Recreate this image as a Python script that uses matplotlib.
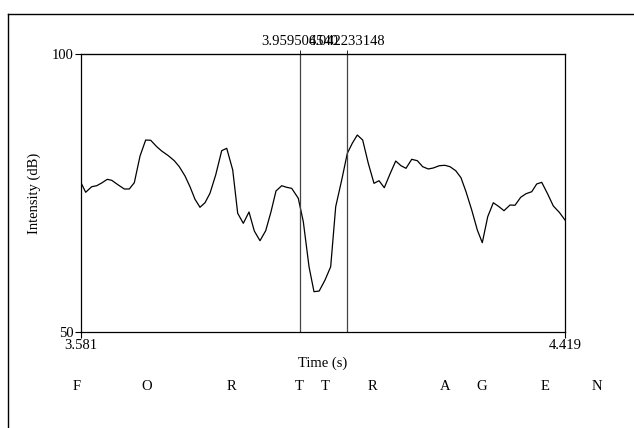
import matplotlib
matplotlib.use("Agg")
import matplotlib.pyplot as plt
import matplotlib.transforms as mtransforms
from matplotlib.lines import Line2D

plt.rcParams['font.family'] = ['Liberation Serif', 'DejaVu Serif']

# intensity contour (s, dB)
times = [3.5810, 3.5891, 3.5995, 3.6082, 3.6168, 3.6265, 3.6342, 3.6456, 3.6560, 3.6646,
         3.6733, 3.6832, 3.6930, 3.7017, 3.7121, 3.7207, 3.7322, 3.7425, 3.7512, 3.7611,
         3.7697, 3.7784, 3.7870, 3.7957, 3.8043, 3.8142, 3.8246, 3.8333, 3.8437, 3.8523,
         3.8620, 3.8719, 3.8811, 3.8909, 3.9008, 3.9100, 3.9186, 3.9285, 3.9372, 3.9458,
         3.9572, 3.9659, 3.9758, 3.9844, 3.9934, 4.0035, 4.0133, 4.0220, 4.0324, 4.0421,
         4.0507, 4.0594, 4.0687, 4.0784, 4.0883, 4.0970, 4.1061, 4.1160, 4.1259, 4.1350,
         4.1437, 4.1536, 4.1633, 4.1726, 4.1823, 4.1910, 4.2014, 4.2112, 4.2199, 4.2298,
         4.2389, 4.2476, 4.2575, 4.2672, 4.2758, 4.2852, 4.2949, 4.3047, 4.3134, 4.3238,
         4.3324, 4.3423, 4.3515, 4.3614, 4.3700, 4.3787, 4.3884, 4.3988, 4.4091, 4.4190]
intensity = [76.85, 75.13, 76.13, 76.31, 76.80, 77.46, 77.28, 76.44, 75.72, 75.72,
             76.85, 81.65, 84.53, 84.48, 83.33, 82.55, 81.71, 80.81, 79.73, 78.06,
             76.13, 73.87, 72.43, 73.25, 74.95, 78.24, 82.61, 83.04, 79.14, 71.35,
             69.55, 71.58, 68.16, 66.42, 68.22, 71.64, 75.36, 76.31, 76.02, 75.84,
             74.05, 69.84, 61.74, 57.25, 57.37, 59.35, 61.74, 72.54, 77.34, 82.14,
             83.94, 85.43, 84.53, 80.34, 76.74, 77.21, 75.95, 78.42, 80.75, 79.91,
             79.44, 81.06, 80.81, 79.73, 79.32, 79.50, 79.91, 79.98, 79.73, 79.01,
             77.75, 75.23, 71.94, 68.34, 66.06, 70.74, 73.25, 72.54, 71.82, 72.84,
             72.79, 74.23, 74.87, 75.23, 76.62, 76.92, 74.95, 72.66, 71.53, 70.14]

t_min, t_max = 3.581, 4.419
db_min, db_max = 50, 100
sel_times = [3.959506540, 4.042233148]
sel_labels = ["3.959506540", "4.042233148"]

letters = ["F", "O", "R", "T", "T", "R", "A", "G", "E", "N"]
letter_times = [3.574, 3.6953, 3.8407, 3.9585, 4.0035, 4.0848, 4.2112, 4.2753, 4.3844, 4.4744]

fig = plt.figure(figsize=(6.34, 4.28), dpi=100)
ax = fig.add_axes([81 / 634, 1 - 332 / 428, 484 / 634, 278 / 428])

ax.plot(times, intensity, color='black', linewidth=0.9)
for st in sel_times:
    ax.axvline(st, color='#444444', linewidth=0.9)

ax.set_xlim(t_min, t_max)
ax.set_ylim(db_min, db_max)
ax.set_xticks([t_min, t_max])
ax.set_xticklabels(["3.581", "4.419"])
ax.set_yticks([db_min, db_max])
ax.set_yticklabels(["50", "100"])
ax.tick_params(direction='out', length=4, width=0.8, labelsize=10.5, pad=1, color='black')
ax.set_xlabel("Time (s)", fontsize=10.5, labelpad=3)
ax.set_ylabel("Intensity (dB)", fontsize=10.5, labelpad=8)
for sp in ax.spines.values():
    sp.set_linewidth(0.9)

top = ax.secondary_xaxis('top')
top.set_xticks(sel_times)
top.set_xticklabels(sel_labels)
top.tick_params(direction='out', length=3, width=0.6, labelsize=10.5, pad=1)

# letter tier below the axis
trans = mtransforms.blended_transform_factory(ax.transData, fig.transFigure)
for lt, tt in zip(letters, letter_times):
    ax.text(tt, 1 - 387 / 428, lt, transform=trans, ha='center', va='center',
            fontsize=10.5, clip_on=False)

# outer frame (top and left edges visible)
fig.add_artist(Line2D([7.5 / 634, 7.5 / 634], [0, 1 - 13.5 / 428],
                      transform=fig.transFigure, color='black', linewidth=1.0))
fig.add_artist(Line2D([7.5 / 634, 633 / 634], [1 - 13.5 / 428, 1 - 13.5 / 428],
                      transform=fig.transFigure, color='black', linewidth=1.0))

fig.savefig("out.png", dpi=100)
